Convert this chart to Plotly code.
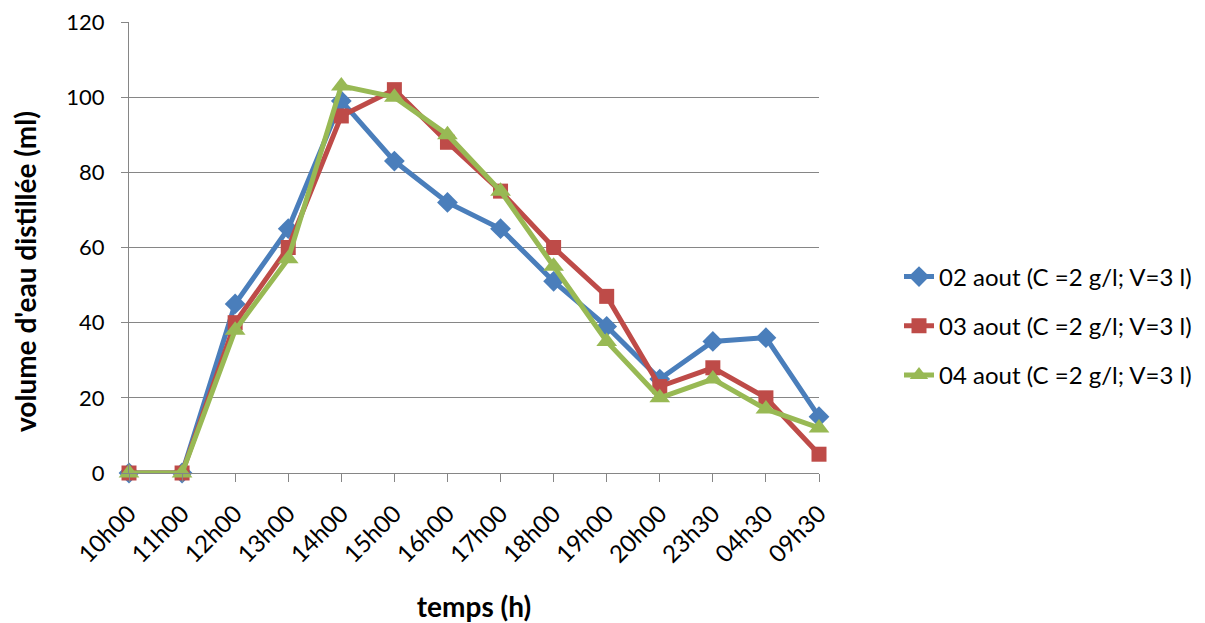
import plotly.graph_objects as go

categories = ["10h00", "11h00", "12h00", "13h00", "14h00", "15h00", "16h00",
              "17h00", "18h00", "19h00", "20h00", "23h30", "04h30", "09h30"]
aout02 = [0, 0, 45, 65, 99, 83, 72, 65, 51, 39, 25, 35, 36, 15]
aout03 = [0, 0, 40, 60, 95, 102, 88, 75, 60, 47, 23, 28, 20, 5]
aout04 = [0, 0, 38, 57, 103, 100, 90, 75, 55, 35, 20, 25, 17, 12]
names = ["02 aout (C =2 g/l; V=3 l)", "03 aout (C =2 g/l; V=3 l)", "04 aout (C =2 g/l; V=3 l)"]
y_ticks = [0, 20, 40, 60, 80, 100, 120]

FONT = "Lato"
GRID = "#868686"

series = [
    (aout02, names[0], "#4A7EBB", "diamond", 16),
    (aout03, names[1], "#BE4B48", "square", 15),
    (aout04, names[2], "#98B954", "triangle-up", 18),
]

fig = go.Figure()
for i, (vals, name, color, sym, size) in enumerate(series):
    fig.add_trace(go.Scatter(
        x=categories, y=vals, name=name, mode="lines+markers",
        line=dict(color=color, width=5),
        marker=dict(symbol=sym, size=size, color=color, line=dict(width=0)),
        cliponaxis=False, legendgroup=f"g{i}",
    ))

fig.update_layout(
    width=1205, height=623,
    margin=dict(l=129, r=386, t=22, b=150),
    paper_bgcolor="white", plot_bgcolor="white",
    font=dict(family=FONT, size=22, color="black"),
    showlegend=True,
    legend=dict(
        xref="container", yref="container",
        x=899 / 1205, y=1 - 326 / 623, xanchor="left", yanchor="middle",
        font=dict(family=FONT, size=24, color="black"),
        tracegroupgap=15, bgcolor="rgba(0,0,0,0)",
    ),
)

# y-axis title placed as a rotated annotation (offset lower, as in the original)
fig.add_annotation(
    text="<b>volume d'eau distillée (ml)</b>", textangle=-90,
    xref="paper", yref="paper", x=(25 - 129) / 690, y=(473 - 272) / 451,
    xanchor="center", yanchor="middle", showarrow=False,
    font=dict(family=FONT, size=28, color="black"),
)

fig.update_xaxes(
    type="category", range=[0, len(categories) - 1],
    showgrid=False, showline=True, linecolor=GRID, linewidth=1.3,
    ticks="outside", ticklen=8, tickcolor=GRID, tickwidth=1.3,
    tickangle=-45, tickfont=dict(family=FONT, size=24),
    ticklabelstandoff=8,
    title=dict(text="<b>temps (h)</b>", font=dict(family=FONT, size=28), standoff=32),
    zeroline=False, automargin=False,
)
fig.update_yaxes(
    range=[0, 120], tickvals=y_ticks,
    showgrid=True, gridcolor=GRID, gridwidth=1.3,
    showline=True, linecolor=GRID, linewidth=1.3,
    ticks="outside", ticklen=7, tickcolor=GRID, tickwidth=1.3,
    tickfont=dict(family=FONT, size=22),
    ticklabelstandoff=12,
    zeroline=False, automargin=False,
)

fig.write_html("out.html", config={"displayModeBar": False},
               post_script="document.body.style.margin='0';")
